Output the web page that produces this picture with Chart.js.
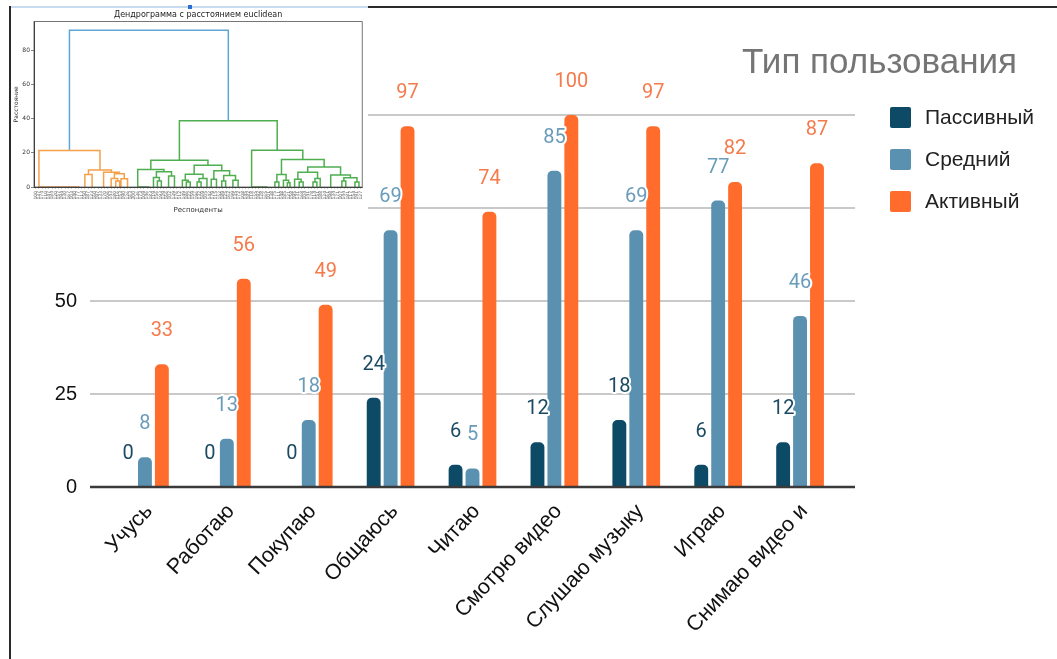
<!DOCTYPE html>
<html>
<head>
<meta charset="utf-8">
<script src="https://cdn.jsdelivr.net/npm/chart.js@4"></script>
<style>
  body { margin: 0; background: #fff; }
  #page { position: relative; width: 1057px; height: 659px; overflow: hidden; background: #fff; }
  #main { position: absolute; left: 0; top: 0; width: 1057px; height: 659px; }
  #inset { position: absolute; left: 11px; top: 7px; width: 357px; height: 211px; background: #fff; }
  #insetTop { position: absolute; left: 11px; top: 6px; width: 357px; height: 2px; background: #c9dcef; }
  #handle { position: absolute; left: 188px; top: 5px; width: 4px; height: 4px; background: #2a6fd6; }
  #frameTop { position: absolute; left: 368px; top: 6px; width: 689px; height: 2px; background: #2b2b2b; }
  #frameLeft { position: absolute; left: 9px; top: 6px; width: 2px; height: 653px; background: #2b2b2b; }
</style>
</head>
<body>
<div id="page">
  <div id="main"><canvas id="mainChart"></canvas></div>
  <div id="inset"><canvas id="dendro"></canvas></div>
  <div id="insetTop"></div>
  <div id="handle"></div>
  <div id="frameTop"></div>
  <div id="frameLeft"></div>
</div>
<script>
// Main chart data
const categories = ['Учусь', 'Работаю', 'Покупаю', 'Общаюсь', 'Читаю', 'Смотрю видео', 'Слушаю музыку', 'Играю', 'Снимаю видео и'];
const passive = [0, 0, 0, 24, 6, 12, 18, 6, 12];
const medium = [8, 13, 18, 69, 5, 85, 69, 77, 46];
const active = [33, 56, 49, 97, 74, 100, 97, 82, 87];
const yTicks = [0, 25, 50, 75, 100];
const seriesNames = ['Пассивный', 'Средний', 'Активный'];

const barColors = ['#0c4a66', '#5a91b0', '#ff6c2c'];
const labelColors = ['#1b4a63', '#6a9cba', '#f57b4d'];

// Dendrogram data: [x left, x right, h left, h right, h top], leaves at 5, 15, ... 995
const blueLinks = [[108, 592, 21.4, 38.9, 92]];
const orangeLinks = [
  [15, 201, 0, 9.9, 21.4], [15, 139, 0, 0, 0],
  [166, 236, 7.4, 8.7, 9.9], [155, 177, 0, 0, 7.4],
  [212, 260, 0, 7.8, 8.7], [245, 275, 5.0, 4.8, 7.8],
  [235, 255, 0, 3.5, 5.0], [249, 261, 0, 0, 3.5], [265, 285, 0, 0, 4.8]
];
const greenLinks = [
  [443, 741, 15.7, 21.5, 38.9],
  [356, 530, 10.3, 12.8, 15.7],
  [316, 396, 0, 9.0, 10.3], [316, 352, 0, 0, 0],
  [373, 419, 5.5, 6.5, 9.0], [364, 382, 0, 3.5, 5.5], [376, 388, 0, 0, 3.5], [410, 428, 0, 0, 6.5],
  [488, 572, 7.5, 9.5, 12.8], [461, 515, 4.0, 5.0, 7.5], [452, 470, 0, 3.0, 4.0], [464, 476, 0, 0, 3.0],
  [503, 527, 3.0, 0, 5.0], [497, 509, 0, 0, 3.0],
  [548, 596, 4.5, 6.8, 9.5], [540, 556, 0, 0, 4.5], [578, 614, 3.5, 4.0, 6.8], [572, 584, 0, 0, 3.5], [606, 622, 0, 0, 4.0],
  [663, 819, 0, 16.1, 21.5], [663, 711, 0, 0, 0],
  [754, 884, 7.3, 11.8, 16.1], [740, 768, 3.0, 4.0, 7.3], [734, 746, 0, 0, 3.0], [760, 776, 0, 2.5, 4.0], [772, 780, 0, 0, 2.5],
  [834, 934, 8.6, 7.0, 11.8], [804, 864, 4.5, 5.0, 8.6], [794, 814, 0, 3.0, 4.5], [808, 820, 0, 0, 3.0],
  [856, 872, 3.0, 0, 5.0], [850, 862, 0, 0, 3.0],
  [904, 964, 0, 5.4, 7.0], [944, 984, 3.5, 3.0, 5.4], [938, 950, 0, 0, 3.5], [978, 990, 0, 0, 3.0]
];
const leafCount = 100;
const distTicks = [0, 20, 40, 60, 80];

// grid lines run a bit past the plot on both sides
const gridLines = {
  id: 'gridLines',
  beforeDatasetsDraw(chart) {
    const {ctx, scales: {y}, chartArea} = chart;
    ctx.save();
    yTicks.forEach(v => {
      if (v === 0) return;
      const py = Math.round(y.getPixelForValue(v));
      ctx.beginPath();
      ctx.strokeStyle = '#c9c9c9';
      ctx.lineWidth = 1.8;
      ctx.moveTo(chartArea.left - 14, py);
      ctx.lineTo(chartArea.right + 14, py);
      ctx.stroke();
    });
    ctx.restore();
  },
  afterDatasetsDraw(chart) {
    const {ctx, scales: {y}, chartArea} = chart;
    const py = Math.round(y.getPixelForValue(0));
    ctx.save();
    ctx.beginPath();
    ctx.strokeStyle = '#3a3a3a';
    ctx.lineWidth = 2.5;
    ctx.moveTo(chartArea.left - 14, py);
    ctx.lineTo(chartArea.right + 14, py);
    ctx.stroke();
    ctx.restore();
  }
};

const valueLabels = {
  id: 'valueLabels',
  afterDatasetsDraw(chart) {
    const ctx = chart.ctx;
    ctx.save();
    ctx.font = '20px Roboto';
    ctx.textAlign = 'center';
    ctx.textBaseline = 'middle';
    ctx.lineJoin = 'round';
    chart.data.datasets.forEach((ds, i) => {
      chart.getDatasetMeta(i).data.forEach((bar, j) => {
        const y = bar.y - 33;
        ctx.strokeStyle = '#fff';
        ctx.lineWidth = 4;
        ctx.strokeText(ds.data[j], bar.x, y);
        ctx.fillStyle = labelColors[i];
        ctx.fillText(ds.data[j], bar.x, y);
      });
    });
    ctx.restore();
  }
};

const sideLegend = {
  id: 'sideLegend',
  afterDraw(chart) {
    const {ctx, chartArea} = chart;
    ctx.save();
    ctx.font = '21px "Liberation Sans"';
    ctx.textBaseline = 'middle';
    chart.data.datasets.forEach((ds, i) => {
      const x = chartArea.right + 49;
      const top = chartArea.top - 8 + i * 42;
      ctx.fillStyle = ds.backgroundColor;
      ctx.beginPath();
      ctx.roundRect(x, top, 21, 21, 2);
      ctx.fill();
      ctx.fillStyle = '#222';
      ctx.fillText(ds.label, x + 35, top + 11);
    });
    ctx.restore();
  }
};

new Chart(document.getElementById('mainChart'), {
  type: 'bar',
  data: {
    labels: categories,
    datasets: [passive, medium, active].map((d, i) => ({
      label: seriesNames[i],
      data: d,
      backgroundColor: barColors[i],
      borderRadius: 5,
      categoryPercentage: 0.62,
      barPercentage: 0.82
    }))
  },
  options: {
    responsive: true,
    maintainAspectRatio: false,
    animation: false,
    layout: { padding: { left: 0, right: 40, top: 0, bottom: 0 } },
    plugins: {
      legend: { display: false },
      tooltip: { enabled: false },
      title: {
        display: true,
        text: 'Тип пользования',
        align: 'end',
        color: '#757575',
        font: { family: 'Liberation Sans', size: 35, weight: 'normal' },
        padding: { top: 42, bottom: 31 }
      }
    },
    scales: {
      x: {
        grid: { display: false, drawTicks: false },
        border: { display: false },
        ticks: {
          color: '#111',
          font: { family: 'Liberation Sans', size: 21.5 },
          minRotation: 47,
          maxRotation: 47,
          padding: 12,
          labelOffset: 4
        },
        afterFit: s => { s.height = 172; }
      },
      y: {
        min: 0,
        max: 100,
        grid: { display: false, drawTicks: false },
        border: { display: false },
        ticks: {
          stepSize: 25,
          color: '#111',
          font: { family: 'Liberation Sans', size: 20 },
          padding: 27
        },
        afterFit: s => { s.width = 104; }
      },
      spacer: {
        type: 'linear',
        position: 'right',
        grid: { display: false, drawTicks: false },
        border: { display: false },
        ticks: { display: false },
        afterFit: s => { s.width = 176; }
      }
    }
  },
  plugins: [gridLines, valueLabels, sideLegend]
});

// Dendrogram inset
function linkPoints(list) {
  const pts = [];
  list.forEach(([x1, x2, h1, h2, top]) => {
    pts.push({ x: x1, y: h1 }, { x: x1, y: top }, { x: x2, y: top }, { x: x2, y: h2 }, { x: x2, y: null });
  });
  return pts;
}

const leafPos = Array.from({ length: leafCount }, (_, i) => 5 + i * 10);
const leafIds = leafPos.map((_, i) => String(100 + (i * 37) % 101));

const frameBox = {
  id: 'frameBox',
  afterDraw(chart) {
    const {ctx, chartArea: a} = chart;
    ctx.save();
    ctx.strokeStyle = '#555';
    ctx.lineWidth = 0.8;
    ctx.strokeRect(a.left, a.top, a.right - a.left, a.bottom - a.top);
    ctx.restore();
  }
};

new Chart(document.getElementById('dendro'), {
  type: 'line',
  data: {
    datasets: [
      { data: linkPoints(orangeLinks), borderColor: '#f5a04a' },
      { data: linkPoints(greenLinks), borderColor: '#4fae50' },
      { data: linkPoints(blueLinks), borderColor: '#5fa5d6' }
    ].map(ds => Object.assign(ds, { borderWidth: 1.5, pointRadius: 0, spanGaps: false, tension: 0 }))
  },
  options: {
    responsive: true,
    maintainAspectRatio: false,
    animation: false,
    layout: { padding: { left: 0, right: 2, top: 0, bottom: 0 } },
    plugins: {
      legend: { display: false },
      tooltip: { enabled: false },
      title: {
        display: true,
        fullSize: false,
        text: 'Дендрограмма с расстоянием euclidean',
        color: '#222',
        font: { family: 'DejaVu Sans', size: 8, weight: 'normal' },
        padding: { top: 3, bottom: 2 }
      }
    },
    scales: {
      x: {
        type: 'linear',
        min: 0,
        max: leafCount * 10,
        afterBuildTicks: s => { s.ticks = leafPos.map(v => ({ value: v })); },
        grid: { display: true, drawOnChartArea: false, drawTicks: true, tickLength: 2, color: '#777', lineWidth: 0.4 },
        border: { display: true, color: '#333', width: 1 },
        ticks: {
          autoSkip: false,
          minRotation: 90,
          maxRotation: 90,
          padding: 2,
          color: '#666',
          font: { family: 'DejaVu Sans', size: 4.5 },
          callback: (v, i) => leafIds[i]
        },
        title: {
          display: true,
          text: 'Респонденты',
          color: '#333',
          font: { family: 'DejaVu Sans', size: 7 },
          padding: { top: 0, bottom: 4 }
        },
        afterFit: s => { s.height = 31; }
      },
      y: {
        min: 0,
        max: 97,
        afterBuildTicks: s => { s.ticks = distTicks.map(v => ({ value: v })); },
        grid: { display: true, drawOnChartArea: false, drawTicks: true, tickLength: 3, color: '#333', lineWidth: 0.6 },
        border: { display: true, color: '#333', width: 1 },
        ticks: { color: '#333', padding: 1, font: { family: 'DejaVu Sans', size: 6 } },
        title: {
          display: true,
          text: 'Расстояние',
          color: '#333',
          font: { family: 'DejaVu Sans', size: 6 },
          padding: { top: 2, bottom: 0 }
        },
        afterFit: s => { s.width = 23; }
      }
    }
  },
  plugins: [frameBox]
});
</script>
</body>
</html>
